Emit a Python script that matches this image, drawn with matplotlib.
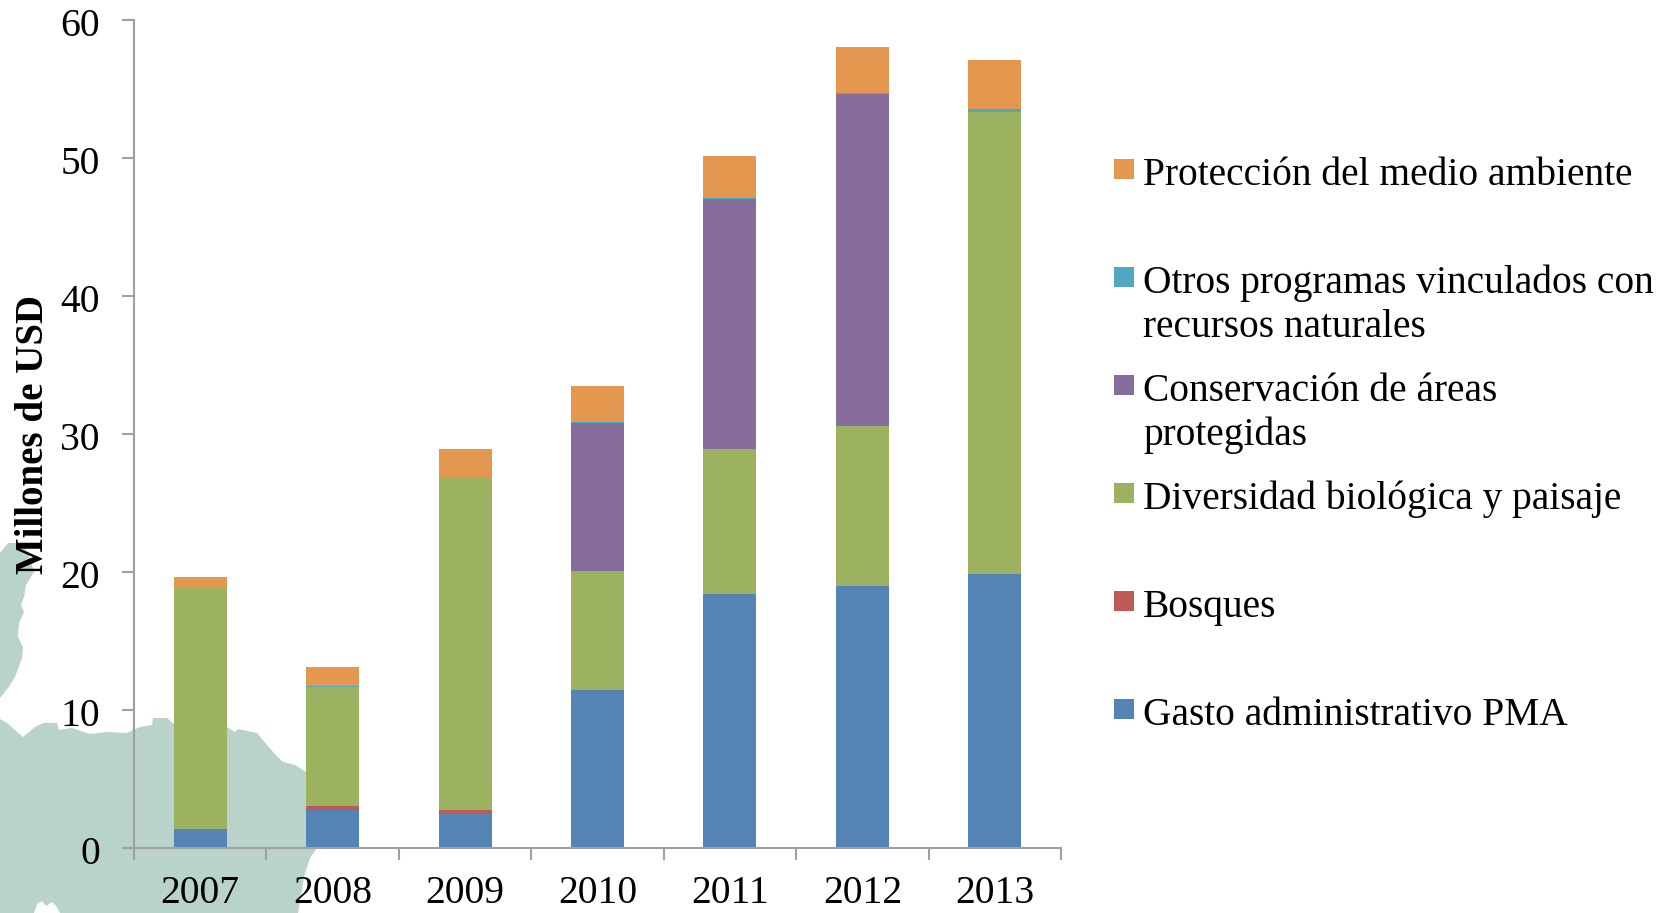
import matplotlib
matplotlib.use("Agg")
import matplotlib.pyplot as plt
from matplotlib.patches import Polygon, Rectangle
from matplotlib.transforms import ScaledTranslation
import numpy as np

plt.rcParams['font.family'] = ['Liberation Serif', 'DejaVu Serif']

anios = ['2007', '2008', '2009', '2010', '2011', '2012', '2013']

gasto = [1.38, 2.78, 2.56, 11.45, 18.4, 18.95, 19.85]
bosques = [0, 0.29, 0.17, 0, 0, 0, 0]
diversidad = [17.5, 8.6, 24.12, 8.59, 10.5, 11.62, 33.5]
areas = [0, 0, 0, 10.76, 18.1, 24.05, 0]
otros = [0.05, 0.05, 0.03, 0.05, 0.07, 0.07, 0.2]
proteccion = [0.73, 1.37, 2.02, 2.6, 3.11, 3.35, 3.55]

series = [gasto, bosques, diversidad, areas, otros, proteccion]
colores = ['#5483B5', '#BE5A55', '#9CB260', '#866D9E', '#4FA8BF', '#E3974F']

etiquetas = ['Gasto administrativo PMA', 'Bosques', 'Diversidad biológica y paisaje',
             'Conservación de áreas\nprotegidas', 'Otros programas vinculados con\nrecursos naturales',
             'Protección del medio ambiente']

W, H = 1675, 913
GRIS = '#A0A0A0'

fig = plt.figure(figsize=(W / 100, H / 100), dpi=100)

def px(puntos):
    # pixeles de la imagen -> fraccion de figura
    return [(x / W, 1 - y / H) for x, y in puntos]

# mapa de fondo (decorativo)
tierra_norte = [(0, 553), (8, 543), (19, 543), (28, 552), (34, 572), (26, 585), (24, 597),
                (21, 605), (24, 612), (19, 623), (18, 637), (23, 647), (22, 658), (15, 677), (8, 688), (0, 698)]
tierra_sur = [(0, 719), (7, 723), (23, 737), (35, 727), (43, 723), (57, 723), (59, 730), (72, 728),
              (90, 734), (107, 732), (127, 733), (133, 730), (140, 727), (152, 725), (153, 718), (167, 718),
              (174, 724), (227, 727), (235, 732), (238, 729), (257, 733), (273, 752), (283, 762), (295, 765),
              (306, 772), (345, 800), (330, 830), (317, 848), (310, 858), (304, 877), (302, 890), (298, 913), (0, 913)]
isla = [(37, 904), (42, 901), (46, 906), (52, 902), (56, 906), (60, 913), (34, 913)]
fig.add_artist(Polygon(px(tierra_norte), closed=True, transform=fig.transFigure, fc='#B9D2CA', ec='none', zorder=0))
fig.add_artist(Polygon(px(tierra_sur), closed=True, transform=fig.transFigure, fc='#B9D2CA', ec='none', zorder=0))
fig.add_artist(Polygon(px(isla), closed=True, transform=fig.transFigure, fc='white', ec='none', zorder=0))

ax = fig.add_axes([134 / W, 1 - 848 / H, (1061 - 134) / W, (848 - 20) / H])
ax.patch.set_alpha(0)

pos = np.arange(len(anios)) + 0.5
base = np.zeros(len(anios))
for valores, color in zip(series, colores):
    ax.bar(pos, valores, 0.4, bottom=base, color=color, edgecolor='none')
    base = base + np.array(valores)

ax.set_xlim(0, 7)
ax.set_ylim(0, 60)
ax.spines['top'].set_visible(False)
ax.spines['right'].set_visible(False)
ax.spines['left'].set_color(GRIS)
ax.spines['bottom'].set_color(GRIS)
ax.spines['left'].set_linewidth(1.5)
ax.spines['bottom'].set_linewidth(1.5)

ax.set_yticks(range(0, 61, 10))
ax.tick_params(axis='y', length=8.6, width=1.5, color=GRIS, labelsize=28.5, pad=16)
# los numeros del eje y van un poco mas abajo que la marca
bajar = ScaledTranslation(0, -1.5 / 100, fig.dpi_scale_trans)
for t in ax.get_yticklabels():
    t.set_transform(t.get_transform() + bajar)
ax.set_xticks(range(0, 8))
ax.set_xticklabels([])
ax.tick_params(axis='x', which='major', length=8.6, width=1.5, color=GRIS)
ax.set_xticks(pos, minor=True)
ax.set_xticklabels(anios, minor=True)
ax.tick_params(axis='x', which='minor', length=0, labelsize=28.5, pad=19.5)

fig.text(34 / W, 1 - 434 / H, 'Millones de USD', rotation=90, fontsize=28, fontweight='bold',
         ha='center', va='center')

# leyenda a mano: el original tiene separacion fija entre entradas
y = 169
for nombre, color in zip(etiquetas[::-1], colores[::-1]):
    fig.add_artist(Rectangle((1114 / W, 1 - (y + 10) / H), 20 / W, 20 / H, transform=fig.transFigure,
                             fc=color, ec='none'))
    fig.text(1143 / W, 1 - (y + 16) / H, nombre.split('\n')[0], fontsize=28.4, ha='left', va='baseline')
    if '\n' in nombre:
        fig.text(1143 / W, 1 - (y + 60) / H, nombre.split('\n')[1], fontsize=28.4, ha='left', va='baseline')
    y += 108

fig.savefig('out.png', dpi=100)
